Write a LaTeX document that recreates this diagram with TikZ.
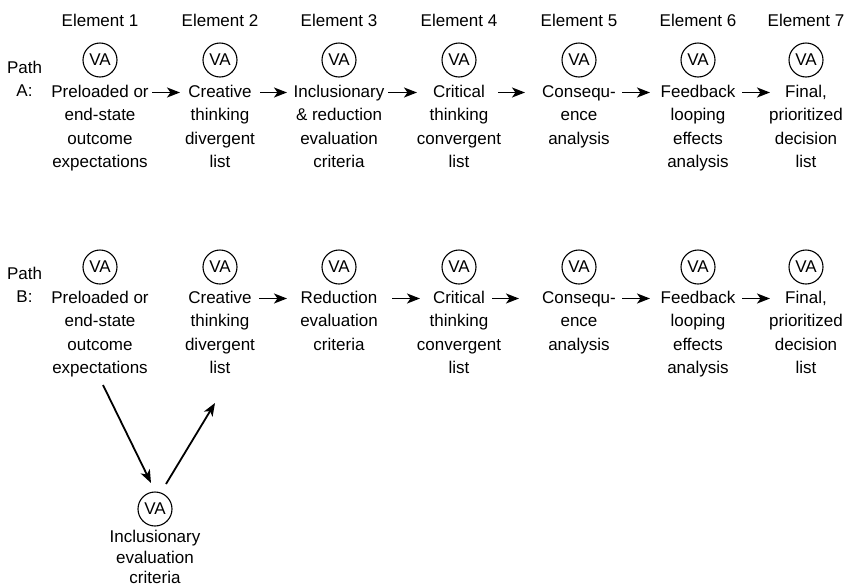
\documentclass[tikz,border=0pt]{standalone}
\usepackage{fontspec}
\setmainfont{Liberation Sans}
\usetikzlibrary{arrows.meta}
\newcommand\stepfont{\fontsize{17}{23.5}\selectfont}
\newcommand\lowfont{\fontsize{17}{20.5}\selectfont}
% fixed-height first line so that a node's north edge sits 14pt above its first baseline
\newcommand\firstln{\rule{0pt}{14pt}}
\begin{document}
\begin{tikzpicture}[x=1pt,y=-1pt,
  va/.style={circle, draw, line width=1.1pt, minimum size=34pt, inner sep=0pt, font=\stepfont},
  lbl/.style={align=center, inner sep=0pt, anchor=north, font=\stepfont},
  lowlbl/.style={align=center, inner sep=0pt, anchor=north, font=\lowfont},
  arr/.style={line width=1.8pt, -{Stealth[length=13pt,width=10pt,inset=3.5pt]}}]
\useasboundingbox (0,0) rectangle (847,587);

% column headings
\node[lbl] (E1) at (100,12) {\firstln Element 1};
\node[lbl] (E2) at (220,12) {\firstln Element 2};
\node[lbl] (E3) at (339,12) {\firstln Element 3};
\node[lbl] (E4) at (459,12) {\firstln Element 4};
\node[lbl] (E5) at (579,12) {\firstln Element 5};
\node[lbl] (E6) at (698,12) {\firstln Element 6};
\node[lbl] (E7) at (806,12) {\firstln Element 7};

% path A
\node[lbl] (PA) at (24.5,59) {\firstln Path\\A:};
\node[va] (VA1) at (100,60) {VA};
\node[va] (VA2) at (220,60) {VA};
\node[va] (VA3) at (339,60) {VA};
\node[va] (VA4) at (459,60) {VA};
\node[va] (VA5) at (579,60) {VA};
\node[va] (VA6) at (698,60) {VA};
\node[va] (VA7) at (806,60) {VA};
\node[lbl] (A1) at (100,83) {\firstln Preloaded or\\end-state\\outcome\\expectations};
\node[lbl] (A2) at (220,83) {\firstln Creative\\thinking\\divergent\\list};
\node[lbl] (A3) at (339,83) {\firstln Inclusionary\\\& reduction\\evaluation\\criteria};
\node[lbl] (A4) at (459,83) {\firstln Critical\\thinking\\convergent\\list};
\node[lbl] (A5) at (579,83) {\firstln Consequ-\\ence\\analysis};
\node[lbl] (A6) at (698,83) {\firstln Feedback\\looping\\effects\\analysis};
\node[lbl] (A7) at (806,83) {\firstln Final,\\prioritized\\decision\\list};

\draw[arr] ([shift={(52,9.5)}]A1.north) -- ([shift={(-40,9.5)}]A2.north);
\draw[arr] ([shift={(40,9.5)}]A2.north) -- ([shift={(-52,9.5)}]A3.north);
\draw[arr] ([shift={(49,9.5)}]A3.north) -- ([shift={(-42,9.5)}]A4.north);
\draw[arr] ([shift={(39,9.5)}]A4.north) -- ([shift={(-54,9.5)}]A5.north);
\draw[arr] ([shift={(43,9.5)}]A5.north) -- ([shift={(-48,9.5)}]A6.north);
\draw[arr] ([shift={(44,9.5)}]A6.north) -- ([shift={(-36,9.5)}]A7.north);

% path B
\node[lbl] (PB) at (24.5,265) {\firstln Path\\B:};
\node[va] (VB1) at (100,267) {VA};
\node[va] (VB2) at (220,267) {VA};
\node[va] (VB3) at (339,267) {VA};
\node[va] (VB4) at (459,267) {VA};
\node[va] (VB5) at (579,267) {VA};
\node[va] (VB6) at (698,267) {VA};
\node[va] (VB7) at (806,267) {VA};
\node[lbl] (B1) at (100,289) {\firstln Preloaded or\\end-state\\outcome\\expectations};
\node[lbl] (B2) at (220,289) {\firstln Creative\\thinking\\divergent\\list};
\node[lbl] (B3) at (339,289) {\firstln Reduction\\evaluation\\criteria};
\node[lbl] (B4) at (459,289) {\firstln Critical\\thinking\\convergent\\list};
\node[lbl] (B5) at (579,289) {\firstln Consequ-\\ence\\analysis};
\node[lbl] (B6) at (698,289) {\firstln Feedback\\looping\\effects\\analysis};
\node[lbl] (B7) at (806,289) {\firstln Final,\\prioritized\\decision\\list};

\draw[arr] ([shift={(39,9.5)}]B2.north) -- ([shift={(-52,9.5)}]B3.north);
\draw[arr] ([shift={(53,9.5)}]B3.north) -- ([shift={(-39,9.5)}]B4.north);
\draw[arr] ([shift={(33,9.5)}]B4.north) -- ([shift={(-60,9.5)}]B5.north);
\draw[arr] ([shift={(43,9.5)}]B5.north) -- ([shift={(-48,9.5)}]B6.north);
\draw[arr] ([shift={(44,9.5)}]B6.north) -- ([shift={(-36,9.5)}]B7.north);

% detour of path B through the inclusionary step
\node[va] (VC) at (155,509) {VA};
\node[lowlbl] (C) at (155,528.5) {\firstln Inclusionary\\evaluation\\criteria};
\draw[arr] ([shift={(3,96)}]B1.north) -- ([shift={(-4,-26)}]VC.center);
\draw[arr] ([shift={(11,-25)}]VC.center) -- ([shift={(-5,114)}]B2.north);
\end{tikzpicture}
\end{document}
